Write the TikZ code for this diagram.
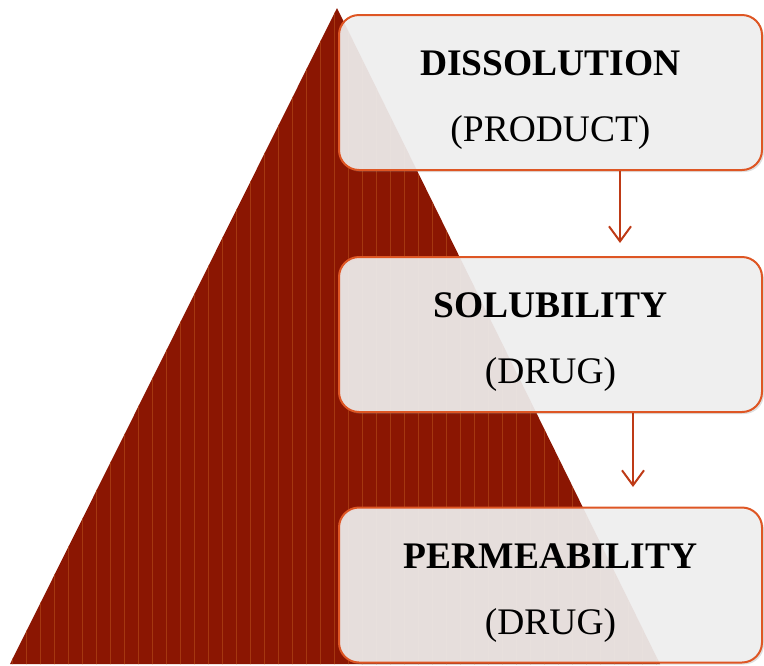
\documentclass[tikz,border=0pt]{standalone}
\usepackage{tikz}
\usepackage{xcolor}
\usepackage{fontspec}
\setmainfont{Liberation Serif}
\usetikzlibrary{shadows,arrows.meta}
\definecolor{pyramidRed}{RGB}{139, 22, 2}
\definecolor{pyramidStripe}{RGB}{165, 55, 16}
\definecolor{boxOrange}{RGB}{222, 86, 36}
\definecolor{boxGray}{RGB}{241, 241, 241}
\definecolor{arrowRed}{RGB}{190, 58, 22}
\newcommand{\leveltext}[2]{\rule{0pt}{40pt}\textbf{#1}\\(#2)}

\begin{document}
\begin{tikzpicture}[x=1pt, y=-1pt]
                    \tikzstyle{level} = [draw=boxOrange, line width=2pt, fill=boxGray, fill opacity=0.9, text opacity=1, rounded corners=20pt, minimum width=423pt, minimum height=155pt, align=center, font=\fontsize{37.5}{66}\selectfont, drop shadow={opacity=0.25, shadow xshift=2pt, shadow yshift=-2pt}]
                    \tikzstyle{link} = [-{Straight Barb[length=15pt, width=22pt]}, arrowRed, line width=2pt]
                    \useasboundingbox (0,0) rectangle (764,665);
                    % pyramid with thin stripes
                    \fill[pyramidRed] (337,8) -- (660,664) -- (10,664) -- cycle;
                    \begin{scope}
                        \clip (337,8) -- (660,664) -- (10,664) -- cycle;
                        \foreach \sx in {12,26,...,660}
                            \draw[pyramidStripe, line width=1pt] (\sx,0) -- (\sx,665);
                    \end{scope}
                    \node[level] (dissolution) at (550.5,92.5) {\leveltext{DISSOLUTION}{PRODUCT}};
                    \node[level] (solubility) at (550.5,334.5) {\leveltext{SOLUBILITY}{DRUG}};
                    \node[level] (permeability) at (550.5,585) {\leveltext{PERMEABILITY}{DRUG}};
                    \coordinate (tipa) at (620,243);
                    \coordinate (tipb) at (633,487);
                    \draw[link] (dissolution.south -| tipa) -- (tipa);
                    \draw[link] (solubility.south -| tipb) -- (tipb);
                \end{tikzpicture}
\end{document}
